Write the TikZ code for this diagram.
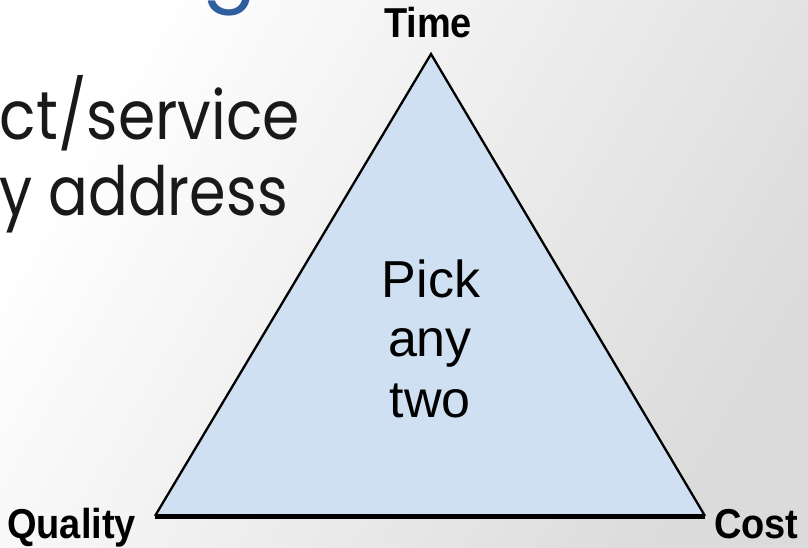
\documentclass[tikz,border=0pt]{standalone}
\usepackage{fontspec}
\usepackage{graphicx}
\setmainfont{Liberation Sans}
\newfontfamily\gothic{Poppins}
\definecolor{trifill}{RGB}{207,224,242}
\definecolor{ttlblue}{RGB}{46,94,158}
\definecolor{bodytxt}{RGB}{25,25,25}
\begin{document}
\begin{tikzpicture}[x=1pt,y=-1pt,
  lbl/.style={font=\bfseries\fontsize{38}{40}\selectfont, inner sep=0pt},
  ctr/.style={font=\fontsize{52}{60}\selectfont, inner sep=0pt, anchor=base},
  bodyline/.style={font=\gothic\fontsize{68}{75}\selectfont, text=bodytxt, inner sep=0pt, anchor=base east},
  edge/.style={line width=2.3pt, line join=miter}]
\useasboundingbox (0,0) rectangle (808,548);
\clip (0,0) rectangle (808,548);
\shade[left color=white, right color=black!14, shading angle=60] (0,0) rectangle (808,548);
% partial title letter
\node[font=\gothic\fontsize{80}{90}\selectfont, text=ttlblue, inner sep=0pt, anchor=base west] (g) at (202,-5) {g};
% body text
\node[bodyline] (l1) at (300,140) {\resizebox{300pt}{\height}{ct/service}};
\node[bodyline] (l2) at (288,215) {\resizebox{288pt}{\height}{y address}};
% triangle
\coordinate (T) at (431,54);
\coordinate (Q) at (155,516);
\coordinate (C) at (705,516);
\fill[trifill] (T) -- (Q) -- (C) -- cycle;
\draw[edge] (Q) -- (T) -- (C);
\draw[line width=5pt] (Q) -- (C);
% labels
\node[lbl, anchor=base] (time) at (428,38) {\scalebox{1}[1.1]{Time}};
\node[lbl, anchor=base west] (quality) at (7,538) {\scalebox{1}[1.1]{Quality}};
\node[lbl, anchor=base west] (cost) at (714,538) {\scalebox{1}[1.1]{Cost}};
\node[ctr] (pick) at (431,297) {Pick};
\node[ctr] (any) at (430,356) {any};
\node[ctr] (two) at (430,417) {two};
\end{tikzpicture}
\end{document}
